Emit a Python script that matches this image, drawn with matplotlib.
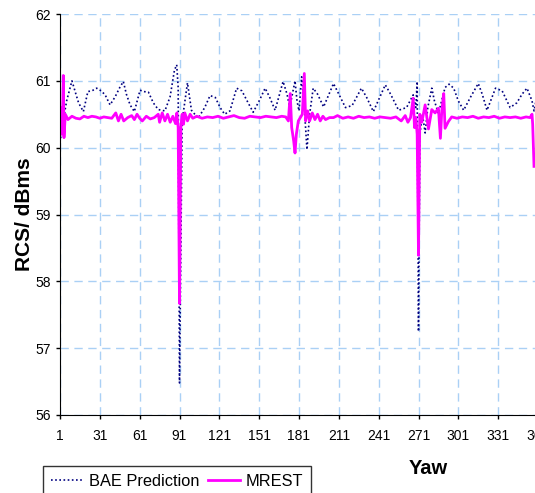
import numpy as np
import matplotlib.pyplot as plt

# yaw (deg) and RCS (dBms)
bae_yaw = [1, 3, 6, 10, 13, 15, 18.6, 22, 25, 28.6, 32, 35, 38.7, 42.5, 46, 48.7,
           51, 53.8, 57, 61.3, 64, 67.6, 71.3, 75, 80, 83.9, 87.2, 88.9, 90, 91,
           93, 97, 100, 105, 110, 114, 118, 121.6, 125, 129, 134, 138, 142.7,
           146.5, 151, 155.5, 159, 163, 169, 172, 174, 178, 179.5, 181, 183, 185,
           187, 189, 191.7, 195, 199.5, 207, 211, 216, 221, 228, 232, 237, 246,
           250, 256, 262, 267, 269, 270, 271, 272, 274, 276, 278, 281, 283, 286,
           291, 294, 297.5, 301, 305, 310, 316, 319, 322.6, 329, 334, 340, 345,
           349, 352.7, 356.5, 358, 360, 361]
bae_rcs = [60.08, 60.35, 60.7, 61.0, 60.8, 60.67, 60.54, 60.84, 60.85, 60.89,
           60.85, 60.79, 60.64, 60.76, 60.9, 60.99, 60.8, 60.64, 60.54, 60.86,
           60.84, 60.83, 60.67, 60.57, 60.55, 60.76, 61.16, 61.24, 60.9, 56.48,
           60.4, 60.97, 60.56, 60.44, 60.6, 60.78, 60.75, 60.6, 60.5, 60.55,
           60.89, 60.85, 60.67, 60.53, 60.7, 60.89, 60.75, 60.56, 60.99, 60.8,
           60.6, 61.0, 60.7, 60.55, 61.06, 60.6, 59.97, 60.5, 60.89, 60.8, 60.61,
           60.96, 60.8, 60.6, 60.63, 60.89, 60.75, 60.54, 60.94, 60.8, 60.56,
           60.6, 60.79, 60.6, 60.99, 57.25, 60.2, 60.5, 60.22, 60.6, 60.89, 60.7,
           60.51, 60.9, 60.95, 60.89, 60.7, 60.56, 60.75, 60.96, 60.8, 60.56,
           60.89, 60.85, 60.6, 60.67, 60.8, 60.89, 60.7, 60.55, 60.75, 60.85]

mrest_yaw = [1, 1.5, 2, 3, 3.5, 4, 5, 7, 10, 13, 16, 19, 22, 25, 28, 31, 34, 37,
             40, 43, 45, 47, 49, 52, 55, 57, 59, 61, 63, 66, 69, 72, 75, 76, 78,
             80, 82, 84, 86, 88, 89, 90, 91, 92, 93, 94, 95, 97, 99, 101, 104,
             108, 112, 116, 120, 124, 128, 132, 136, 140, 144, 148, 152, 156, 160,
             164, 168, 171, 173, 174.4, 175.5, 177, 178, 179, 180.5, 182, 183.5,
             185, 186, 187.5, 189, 191, 193, 195, 197, 199, 201, 204, 207, 210,
             214, 218, 222, 226, 230, 234, 238, 242, 246, 250, 254, 258, 261, 263,
             265, 267, 268, 269, 270, 271, 272, 273.5, 276, 278.5, 281, 283.5,
             286, 287.5, 288.5, 290, 291, 293.5, 296, 300, 304, 308, 312, 316,
             320, 324, 328, 332, 336, 340, 344, 348, 352, 355, 356.5, 357, 358]
mrest_rcs = [60.3, 60.6, 60.2, 60.55, 61.08, 60.15, 60.5, 60.42, 60.47, 60.44,
             60.43, 60.47, 60.45, 60.47, 60.46, 60.44, 60.46, 60.45, 60.44, 60.52,
             60.4, 60.5, 60.4, 60.45, 60.48, 60.42, 60.5, 60.44, 60.4, 60.47,
             60.43, 60.45, 60.5, 60.38, 60.52, 60.4, 60.5, 60.38, 60.47, 60.36,
             60.52, 60.3, 57.67, 60.3, 60.5, 60.35, 60.52, 60.4, 60.5, 60.44,
             60.47, 60.44, 60.46, 60.45, 60.47, 60.44, 60.46, 60.48, 60.45, 60.44,
             60.47, 60.46, 60.45, 60.47, 60.46, 60.45, 60.47, 60.46, 60.4, 60.81,
             60.3, 60.1, 59.92, 60.2, 60.4, 60.45, 60.5, 61.11, 60.4, 60.55, 60.4,
             60.52, 60.42, 60.5, 60.4, 60.47, 60.42, 60.45, 60.45, 60.48, 60.44,
             60.46, 60.44, 60.47, 60.45, 60.46, 60.44, 60.46, 60.45, 60.44, 60.46,
             60.4, 60.48, 60.38, 60.45, 60.74, 60.3, 60.45, 60.2, 58.39, 60.5,
             60.38, 60.64, 60.28, 60.57, 60.52, 60.59, 60.14, 60.54, 60.81, 60.29,
             60.39, 60.46, 60.44, 60.46, 60.45, 60.47, 60.44, 60.46, 60.45, 60.47,
             60.44, 60.46, 60.45, 60.46, 60.44, 60.46, 60.45, 60.5, 60.35, 59.72]

x_ticks = np.arange(1, 362, 30)
y_ticks = np.arange(56, 63, 1)

plt.rcParams['font.family'] = ['Liberation Sans', 'DejaVu Sans']

fig = plt.figure(figsize=(5.35, 4.93), dpi=100)
ax = fig.add_axes([60 / 535, 1 - 415 / 493, 478 / 535, 401 / 493])

ax.plot(bae_yaw, bae_rcs, color='#000080', lw=1.2, ls=(0, (1, 1.5)),
        label='BAE Prediction')
ax.plot(mrest_yaw, mrest_rcs, color='#ff00ff', lw=2, label='MREST')

ax.set_xlim(1, 361)
ax.set_ylim(56, 62)
ax.set_xticks(x_ticks)
ax.set_yticks(y_ticks)
ax.tick_params(labelsize=10, length=3, width=1)
ax.tick_params(axis='x', pad=7)
ax.grid(True, color='#aad0f5', ls=(0, (6, 4)), lw=1)
ax.set_axisbelow(True)
for side in ['top', 'right']:
    ax.spines[side].set_visible(False)

ax.set_ylabel('RCS/ dBms', fontsize=15, fontweight='bold', labelpad=1)
fig.text(428 / 535, 1 - 468 / 493, 'Yaw', fontsize=14.5, fontweight='bold',
         ha='center', va='center')

leg = fig.legend(loc='upper left', bbox_to_anchor=(43 / 535, 1 - 466 / 493),
                 ncol=2, fontsize=11.8, frameon=True, fancybox=False,
                 edgecolor='black', handlelength=2.0, handletextpad=0.3,
                 columnspacing=0.5, borderpad=0.5, borderaxespad=0)
leg.get_frame().set_linewidth(1)

fig.savefig('out.png', dpi=100)
